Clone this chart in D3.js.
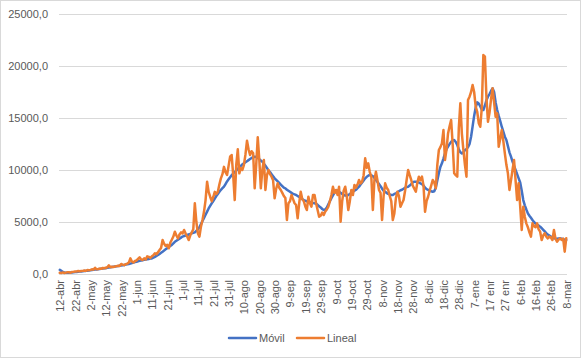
<!DOCTYPE html>
<html><head><meta charset="utf-8">
<script src="https://cdn.jsdelivr.net/npm/d3@7"></script>
<style>body{margin:0;background:#fff}svg{display:block}</style>
</head><body>
<svg id="c" width="581" height="358"></svg>
<script>
const tickLabels = ["12-abr","22-abr","2-may","12-may","22-may","1-jun","11-jun","21-jun","1-jul","11-jul","21-jul","31-jul","10-ago","20-ago","30-ago","9-sep","19-sep","29-sep","9-oct","19-oct","29-oct","8-nov","18-nov","28-nov","8-dic","18-dic","28-dic","7-ene","17 enr","27 enr","6-feb","16-feb","26-feb","8-mar"];
const yTicks = [0,5000,10000,15000,20000,25000];
const seriesNames = ["Móvil","Lineal"];
const lineal = [
120,90,150,100,130,160,180,120,200,210,
230,250,290,260,280,300,330,310,380,360,
400,450,420,600,450,480,520,500,580,550,
600,650,830,650,700,680,720,760,800,780,
960,900,850,950,1000,1100,1500,1200,1100,1250,
1300,1450,1600,1400,1350,1500,1400,1700,1650,1550,
1700,1800,2000,1900,2100,2300,2500,3270,2900,2700,
2800,2470,3000,3300,3600,4070,3700,3430,3800,4000,
3900,4230,3900,3600,3270,3700,4000,4300,6800,5000,
3900,3590,4550,5200,6000,7110,8880,7900,7430,7000,
7400,7900,7700,7910,8600,9200,9600,10300,9800,9520,
10400,11280,11440,9500,7110,10500,11990,9680,10200,10000,
10500,11500,12820,12000,11440,11800,11600,8240,10500,13140,
11000,8240,10000,10960,8080,9500,10000,9600,9360,9000,
7280,8200,8720,8300,8080,7800,7500,7300,5190,6800,
7000,7600,7200,6800,6630,5350,6800,7910,7200,7000,
6500,6150,7430,6800,6470,7600,7600,6800,6150,5510,
5600,5900,5670,6000,6200,6470,7000,7600,8390,7800,
8080,7600,8390,5030,7000,8000,8390,7500,6150,7000,
8080,7600,8560,8300,8600,9040,8700,8880,9500,11120,
10200,10640,9800,9360,6150,9000,9840,9000,8080,7800,
5190,7500,8720,8300,8080,7500,7000,5190,5830,7280,
7910,7500,6470,6800,7110,8000,9040,10000,9500,9040,
8500,8200,7910,8800,9360,9000,9360,8500,5990,7000,
7430,8000,8500,9040,8800,8240,10500,11920,12200,12560,
13840,10960,12000,13520,14200,14800,12500,9680,9500,9360,
14000,16410,13500,11920,10500,9360,16730,17050,17500,18170,
17500,16090,15600,14500,14160,16000,21060,20900,17000,14640,
15500,16800,17850,16500,15120,15450,12240,13000,13840,12800,
11600,10500,9680,8080,9000,10000,10960,9000,7110,8720,
6500,4230,6470,5500,4870,4500,4000,3590,4870,4600,
4500,4870,4300,4070,3270,3700,3910,3600,3430,3600,
3500,3270,4230,3400,3110,3300,3430,3270,3400,2150,3430
];
const movil = [
400,300,200,150,120,110,130,140,150,160,
180,200,220,240,250,270,290,300,320,340,
360,380,400,420,440,460,480,500,520,540,
560,590,620,650,680,700,720,740,760,790,
810,840,870,900,930,960,1000,1050,1100,1150,
1180,1220,1260,1300,1330,1360,1390,1420,1450,1480,
1500,1570,1650,1740,1830,1930,2040,2150,2260,2370,
2480,2590,2700,2800,2950,3100,3200,3300,3400,3500,
3600,3650,3700,3750,3800,3850,3900,3950,4000,4150,
4300,4500,4800,5100,5400,5700,6000,6300,6550,6800,
7000,7250,7500,7700,7900,8100,8250,8400,8650,8900,
9100,9300,9500,9650,9800,9950,10100,10250,10400,10550,
10640,10750,10850,10950,11050,11150,11250,11280,11250,11150,
11050,10900,10800,10600,10400,10200,9950,9800,9600,9400,
9200,9050,8900,8750,8600,8450,8300,8240,8100,8000,
7900,7800,7700,7650,7600,7500,7400,7300,7200,7110,
7050,7000,6950,6900,6850,6820,6800,6750,6650,6500,
6400,6250,6150,6200,6400,6700,7000,7300,7550,7800,
8050,8000,7900,7800,7700,7600,7550,7550,7600,7700,
7800,7900,8000,8100,8250,8400,8600,8800,9000,9200,
9350,9450,9520,9500,9400,9250,9040,8850,8650,8450,
8200,8000,7900,7800,7700,7650,7600,7600,7700,7760,
7850,7950,8050,8100,8200,8300,8350,8390,8500,8650,
8800,8880,8880,8850,8800,8720,8650,8500,8300,8150,
8080,8000,7950,7910,7950,8300,9000,9700,10300,10640,
11100,11600,12000,12240,12500,12700,12850,12880,12700,12400,
12000,11700,11600,11700,11920,12000,12200,12500,13200,14200,
15200,16000,16500,16400,16100,15800,15770,16200,16700,17050,
17300,17600,17850,17500,16500,15770,15200,14700,14160,13700,
13200,12880,12300,11700,11280,10800,10400,10000,9600,9200,
8800,8000,7110,6600,6200,5830,5600,5400,5190,5000,
4850,4750,4650,4550,4400,4250,4100,3910,3800,3700,
3600,3500,3430,3400,3400,3420,3430,3400,3350,3300,3270
];

const svg = d3.select("#c");
const W = 581, H = 358;
const m = {left: 59, right: 567, top: 14, bottom: 274};
const N = lineal.length;
const font = "'Liberation Sans', Arial, sans-serif";
const textCol = "#595959";
const gridCol = "#d9d9d9";

svg.append("rect").attr("x",0.5).attr("y",0.5).attr("width",W-1).attr("height",H-1)
  .attr("fill","#fff").attr("stroke",gridCol);

const x = d3.scaleLinear().domain([-0.5, N-0.5]).range([m.left, m.right]);
const y = d3.scaleLinear().domain([0, 25000]).range([m.bottom, m.top]);

// gridlines + y labels
const yAxis = d3.axisLeft(y).tickValues(yTicks).tickSize(-(m.right-m.left)).tickPadding(11)
  .tickFormat(d => d3.format(".1f")(d).replace(".", ","));
const gy = svg.append("g").attr("transform",`translate(${m.left},0)`).call(yAxis);
gy.select(".domain").remove();
gy.selectAll(".tick line").attr("stroke",gridCol).attr("stroke-width",1);
gy.selectAll(".tick text").attr("fill",textCol).style("font-family",font).style("font-size","11px");

// x axis
const tickIdx = tickLabels.map((_, k) => k*10);
const xAxis = d3.axisBottom(x).tickValues(tickIdx).tickSize(0).tickPadding(0)
  .tickFormat((d,k) => tickLabels[k]);
const gx = svg.append("g").attr("transform",`translate(0,${m.bottom})`).call(xAxis);
gx.select(".domain").attr("stroke",gridCol).attr("d",`M${m.left},0.5H${m.right}`);
gx.selectAll(".tick text")
  .attr("fill",textCol).style("font-family",font).style("font-size","11px")
  .attr("text-anchor","end").attr("transform","translate(4,6) rotate(-90)").attr("dy",0).attr("y",0).attr("x",0);

const line = d3.line().x((d,i) => x(i)).y(d => y(d)).curve(d3.curveLinear);
svg.append("path").datum(movil).attr("fill","none").attr("stroke","#4472C4")
  .attr("stroke-width",2.5).attr("stroke-linejoin","round").attr("stroke-linecap","round").attr("d",line);
svg.append("path").datum(lineal).attr("fill","none").attr("stroke","#ED7D31")
  .attr("stroke-width",2.5).attr("stroke-linejoin","round").attr("stroke-linecap","round").attr("d",line);

// legend
const legend = [{name: seriesNames[0], color:"#4472C4", x:229},{name: seriesNames[1], color:"#ED7D31", x:297}];
const lg = svg.append("g");
legend.forEach(l => {
  lg.append("line").attr("x1",l.x).attr("x2",l.x+27).attr("y1",338).attr("y2",338)
    .attr("stroke",l.color).attr("stroke-width",2.5).attr("stroke-linecap","round");
  lg.append("text").attr("x",l.x+30).attr("y",342).attr("fill",textCol)
    .style("font-family",font).style("font-size","11px").text(l.name);
});
</script>
</body></html>
